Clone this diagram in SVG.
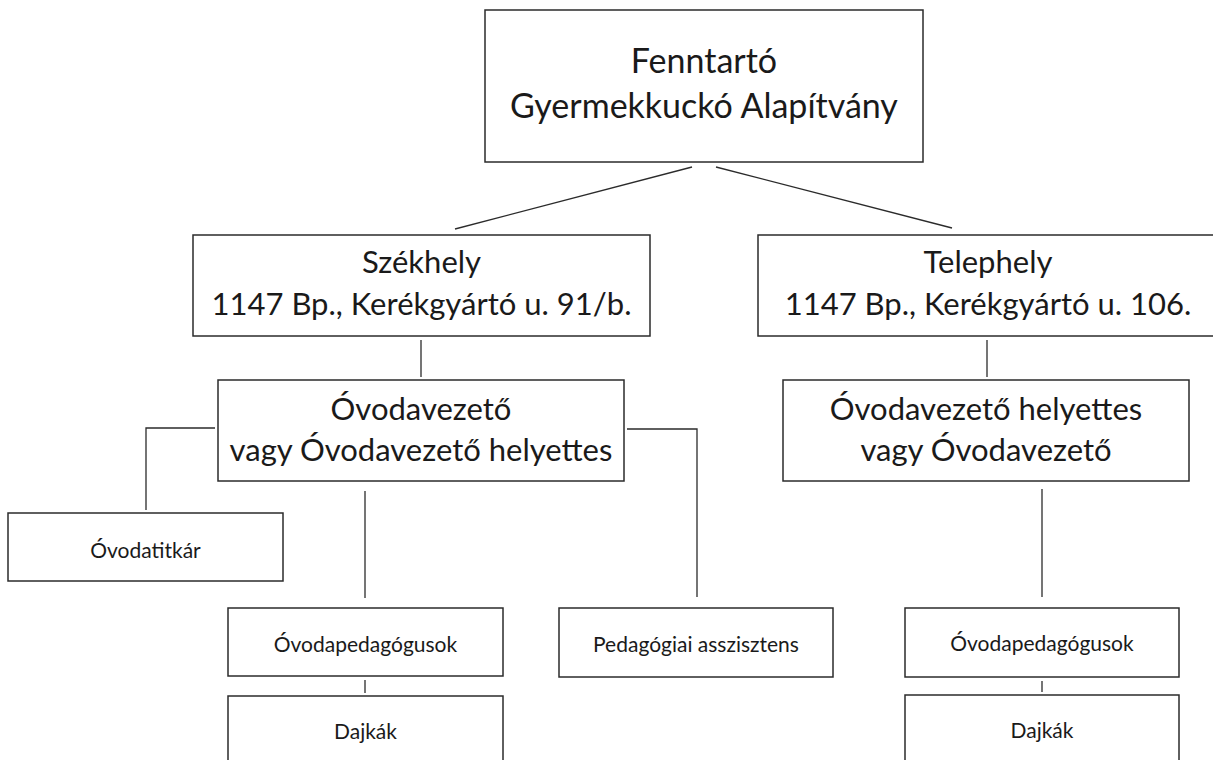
<svg xmlns="http://www.w3.org/2000/svg" width="1213" height="760" viewBox="0 0 1213 760">
<style>
.box{fill:#fff;stroke:#2b2b2b;stroke-width:1.5}
.ln{fill:none;stroke:#2b2b2b;stroke-width:1.3}
text{font-family:Lato,"Open Sans",sans-serif;fill:#1a1a1a;text-anchor:middle}
.t1{font-size:34px}
.t2{font-size:31px}
.t3{font-size:21px}
</style>
<rect width="1213" height="760" fill="#fff"/>
<g id="connectors">
<line class="ln" x1="692" y1="167" x2="455" y2="229"/>
<line class="ln" x1="716" y1="167" x2="952" y2="228"/>
<line class="ln" x1="421" y1="340" x2="421" y2="377"/>
<line class="ln" x1="987" y1="340" x2="987" y2="377"/>
<polyline class="ln" points="215,428 146,428 146,510"/>
<polyline class="ln" points="627,429 697,429 697,597"/>
<line class="ln" x1="365" y1="491" x2="365" y2="598"/>
<line class="ln" x1="365" y1="680" x2="365" y2="693"/>
<line class="ln" x1="1042" y1="489" x2="1042" y2="597"/>
<line class="ln" x1="1042" y1="681" x2="1042" y2="692"/>
</g>
<g id="fenntarto">
<rect class="box" x="485" y="10" width="438" height="152"/>
<text class="t1" x="704" y="73">Fenntartó</text>
<text class="t1" x="704" y="118">Gyermekkuckó Alapítvány</text>
</g>
<g id="szekhely">
<rect class="box" x="193" y="235" width="457" height="101"/>
<text class="t2" x="421.5" y="273">Székhely</text>
<text class="t2" x="421.5" y="315">1147 Bp., Kerékgyártó u. 91/b.</text>
</g>
<g id="telephely">
<rect class="box" x="758" y="235" width="460" height="101"/>
<text class="t2" x="988" y="273">Telephely</text>
<text class="t2" x="988" y="315">1147 Bp., Kerékgyártó u. 106.</text>
</g>
<g id="vezeto-left">
<rect class="box" x="218" y="380" width="406" height="101"/>
<text class="t2" x="421" y="420">Óvodavezető</text>
<text class="t2" x="421" y="461">vagy Óvodavezető helyettes</text>
</g>
<g id="vezeto-right">
<rect class="box" x="783" y="380" width="406" height="101"/>
<text class="t2" x="986" y="420">Óvodavezető helyettes</text>
<text class="t2" x="986" y="461">vagy Óvodavezető</text>
</g>
<g id="titkar">
<rect class="box" x="8" y="513" width="275" height="68"/>
<text class="t3" x="145.5" y="558">Óvodatitkár</text>
</g>
<g id="pedagogusok-left">
<rect class="box" x="228" y="608" width="275" height="68"/>
<text class="t3" x="365.5" y="652">Óvodapedagógusok</text>
</g>
<g id="dajkak-left">
<rect class="box" x="228" y="696" width="275" height="80"/>
<text class="t3" x="365.5" y="739">Dajkák</text>
</g>
<g id="asszisztens">
<rect class="box" x="559" y="608" width="274" height="69"/>
<text class="t3" x="696" y="652">Pedagógiai asszisztens</text>
</g>
<g id="pedagogusok-right">
<rect class="box" x="905" y="608" width="274" height="69"/>
<text class="t3" x="1042" y="651">Óvodapedagógusok</text>
</g>
<g id="dajkak-right">
<rect class="box" x="905" y="695" width="274" height="80"/>
<text class="t3" x="1042" y="738">Dajkák</text>
</g>
</svg>
